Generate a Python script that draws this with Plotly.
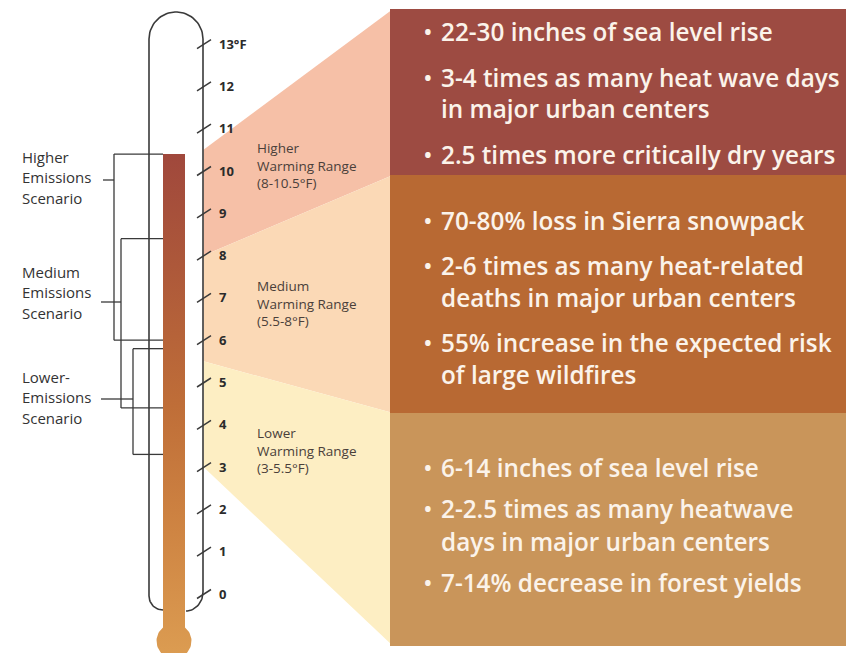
import numpy as np
import plotly.graph_objects as go

W, H = 846, 653

# ---------------- data ----------------
tick_values = list(range(0, 14))
tick_labels = [str(v) for v in range(0, 13)] + ["13°F"]

mercury_top = 10.4

scenario_labels = [["Higher", "Emissions", "Scenario"],
                   ["Medium", "Emissions", "Scenario"],
                   ["Lower-", "Emissions", "Scenario"]]
scenario_low = [6.0, 4.4, 3.3]
scenario_high = [10.4, 8.4, 5.8]

range_names = ["Higher", "Medium", "Lower"]
range_low = [8.0, 5.5, 3.0]
range_high = [10.5, 8.0, 5.5]
range_labels = ["(8-10.5°F)", "(5.5-8°F)", "(3-5.5°F)"]

effects_higher = [["22-30 inches of sea level rise"],
                  ["3-4 times as many heat wave days", "in major urban centers"],
                  ["2.5 times more critically dry years"]]
effects_medium = [["70-80% loss in Sierra snowpack"],
                  ["2-6 times as many heat-related", "deaths in major urban centers"],
                  ["55% increase in the expected risk", "of large wildfires"]]
effects_lower = [["6-14 inches of sea level rise"],
                 ["2-2.5 times as many heatwave", "days in major urban centers"],
                 ["7-14% decrease in forest yields"]]

# ---------------- styling / layout constants ----------------
Y0_PX, K = 594.0, 42.3          # pixel row of 0°F and pixels per °F


def f(px):
    """pixel row -> °F on the y axis"""
    return (Y0_PX - px) / K


LINE = "#3a3a3a"
TEXT = "#333333"
FONT = "Open Sans"
PANEL_TXT = "#fbf3ea"

range_colors = ["#f6c0a7", "#fbd9b6", "#fdeec3"]
panel_colors = ["#9d4b42", "#b86933", "#c9955a"]
panel_top_px = [9, 175, 413]
panel_bot_px = [175, 413, 646]
PANEL_X0, PANEL_X1 = 390, 846
TUBE_L, TUBE_R = 149, 203
STEM_L, STEM_R = 163, 185

fig = go.Figure()
shapes = []
annotations = []

# warming range wedges
for i in range(3):
    path = (f"M {TUBE_R+0.5},{range_high[i]} L {PANEL_X0+3},{f(panel_top_px[i])} "
            f"L {PANEL_X0+3},{f(panel_bot_px[i])} L {TUBE_R+0.5},{range_low[i]} Z")
    shapes.append(dict(type="path", path=path, xref="x", yref="y",
                       fillcolor=range_colors[i], line=dict(width=0), layer="below"))

# right panels
for i in range(3):
    shapes.append(dict(type="rect", xref="x", yref="y", x0=PANEL_X0, x1=PANEL_X1,
                       y0=f(panel_bot_px[i]), y1=f(panel_top_px[i]),
                       fillcolor=panel_colors[i], line=dict(width=0), layer="below"))

# panel bullet text
panel_text_cfg = [(effects_higher, 31, 46, 31),
                  (effects_medium, 220, 45, 32),
                  (effects_lower, 467, 41, 33)]
for effects, y_start, item_gap, line_gap in panel_text_cfg:
    y = y_start
    for k, item in enumerate(effects):
        if k > 0:
            y += item_gap
        annotations.append(dict(x=421, y=f(y), xref="x", yref="y", text="•",
                                showarrow=False, xanchor="left", yanchor="middle",
                                font=dict(family=FONT, size=26, color=PANEL_TXT)))
        for j, line in enumerate(item):
            if j > 0:
                y += line_gap
            annotations.append(dict(x=439, y=f(y), xref="x", yref="y", text=line,
                                    showarrow=False, xanchor="left", yanchor="middle",
                                    font=dict(family=FONT, size=24.3, color=PANEL_TXT,
                                              weight=600)))

# warming range labels (one block of three lines each)
range_label_mid_px = [165, 303, 450]
for i in range(3):
    txt = "<br>".join([range_names[i], "Warming Range", range_labels[i]])
    annotations.append(dict(x=255, y=f(range_label_mid_px[i]), xref="x", yref="y",
                            text=txt, showarrow=False, xanchor="left", yanchor="middle",
                            align="left",
                            font=dict(family=FONT, size=13.5, color="#4a3f3a")))

# mercury column with bulb (gradient)
bcx, bcy, br = 174.0, 641.0, 17.5
half = (STEM_R - STEM_L) / 2.0
th0 = np.arcsin(-np.sqrt(br**2 - half**2) / br)  # right intersection angle (y down)
ths = np.linspace(th0, np.pi - th0, 60)
bx = bcx + br * np.cos(ths)
by = bcy + br * np.sin(ths)
merc_x = [STEM_L, STEM_R] + list(bx) + [STEM_L]
merc_y = [mercury_top, mercury_top] + [f(v) for v in by] + [mercury_top]
fig.add_trace(go.Scatter(
    x=merc_x, y=merc_y, mode="lines", fill="toself", line=dict(width=0),
    fillgradient=dict(type="vertical", start=f(660), stop=mercury_top,
                      colorscale=[[0, "#dc9d52"], [0.25, "#cf8543"], [0.5, "#bf6e38"],
                                  [0.78, "#ad583a"], [1, "#a0483c"]]),
    hoverinfo="skip", showlegend=False))

# thermometer tube outline
tx, ty = [], []
t = np.linspace(np.pi / 2, np.pi, 20)
tx += list(STEM_L + 14 * np.cos(t)); ty += list(596 + 14 * np.sin(t))
t = np.linspace(np.pi, 2 * np.pi, 40)
cx, r = (TUBE_L + TUBE_R) / 2.0, (TUBE_R - TUBE_L) / 2.0
tx += list(cx + r * np.cos(t)); ty += list(12 + r + r * np.sin(t))
t = np.linspace(0, np.pi / 2, 20)
tx += list(186 + 17 * np.cos(t)); ty += list(592 + 19 * np.sin(t))
fig.add_trace(go.Scatter(x=tx, y=[f(v) for v in ty], mode="lines",
                         line=dict(color=LINE, width=1.6), hoverinfo="skip",
                         showlegend=False))

# slanted tick marks
dy = 4.5 / K
for v in tick_values:
    shapes.append(dict(type="line", xref="x", yref="y", x0=197, x1=211,
                       y0=v - dy, y1=v + dy, line=dict(color=LINE, width=1.5)))

# scenario brackets
bracket_x = [114, 121, 133]
for i in range(3):
    bxx = bracket_x[i]
    for (x0, y0, x1, y1) in [(bxx, scenario_high[i], STEM_L, scenario_high[i]),
                             (bxx, scenario_low[i], bxx, scenario_high[i]),
                             (bxx, scenario_low[i], STEM_L, scenario_low[i])]:
        shapes.append(dict(type="line", xref="x", yref="y", x0=x0, y0=y0, x1=x1, y1=y1,
                           line=dict(color=LINE, width=1.3)))

# scenario labels and connectors
label_px = [157, 272, 377]
connector_px = [180, 302, 399]
connector_x0 = [103, 101, 101]
for i in range(3):
    for j, t_ in enumerate(scenario_labels[i]):
        annotations.append(dict(x=20, y=f(label_px[i] + 20.3 * j), xref="x", yref="y",
                                text=t_, showarrow=False, xanchor="left", yanchor="middle",
                                font=dict(family=FONT, size=15, color=TEXT)))
    shapes.append(dict(type="line", xref="x", yref="y", x0=connector_x0[i],
                       x1=bracket_x[i], y0=f(connector_px[i]), y1=f(connector_px[i]),
                       line=dict(color=LINE, width=1.3)))

fig.update_layout(
    width=W, height=H, margin=dict(l=0, r=0, t=0, b=0),
    paper_bgcolor="white", plot_bgcolor="white",
    shapes=shapes, annotations=annotations, showlegend=False,
    xaxis=dict(range=[0, W], visible=False, fixedrange=True),
    yaxis=dict(range=[f(H), f(0)], anchor="free", position=218 / W, side="right",
               tickvals=tick_values, ticktext=tick_labels, ticks="", showgrid=False,
               zeroline=False, showline=False, automargin=False, fixedrange=True,
               tickfont=dict(family=FONT, size=13, color="#2b2b2b", weight="bold")),
)

fig.write_html("out.html", config={"displayModeBar": False},
               post_script="document.body.style.margin='0';")
